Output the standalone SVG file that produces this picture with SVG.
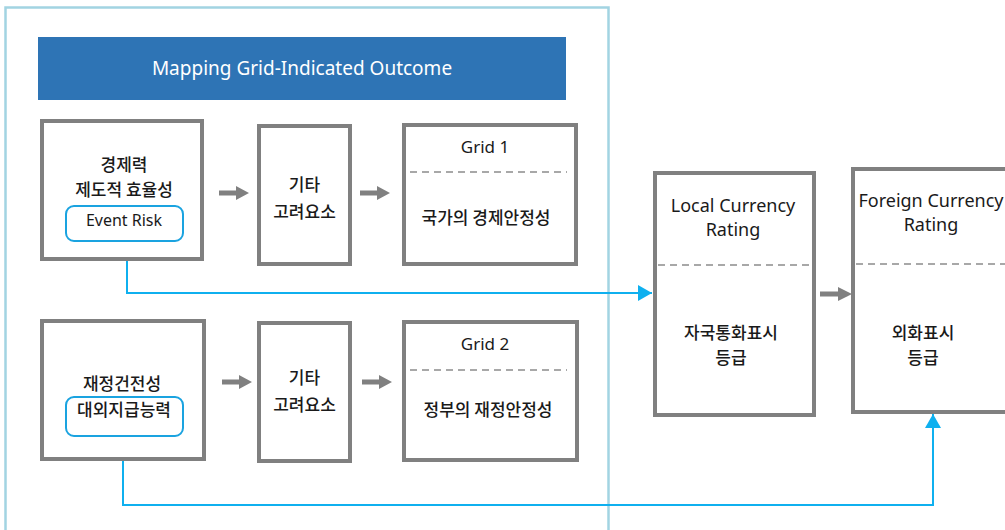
<svg xmlns="http://www.w3.org/2000/svg" width="1005" height="530" viewBox="0 0 1005 530">
<defs>
<style>
.box{fill:#fff;stroke:#808080;stroke-width:4}
.pill{fill:#fff;stroke:#1aa3e0;stroke-width:2}
.dash{stroke:#8c8c8c;stroke-width:1.5;stroke-dasharray:7 5;fill:none}
.t{font-family:"Noto Sans CJK KR","Noto Sans",sans-serif;font-size:17px;font-weight:500;fill:#1a1a1a;text-anchor:middle}
.e{font-family:"Noto Sans","Noto Sans CJK KR",sans-serif;font-size:16px;fill:#1a1a1a;text-anchor:middle}
.r{font-family:"Noto Sans","Noto Sans CJK KR",sans-serif;font-size:18px;fill:#1a1a1a;text-anchor:middle}
.conn{fill:none;stroke:#0fb0ef;stroke-width:2}
.garrow{fill:#808080}
</style>
<marker id="ba" viewBox="0 0 14 16" refX="14" refY="8" markerWidth="14" markerHeight="16" markerUnits="userSpaceOnUse" orient="auto">
<path d="M0,0 L14,8 L0,16 Z" fill="#0fb0ef"/>
</marker>
</defs>
<rect width="1005" height="530" fill="#fff"/>
<rect id="container" x="5.5" y="7.5" width="603" height="540" fill="none" stroke="#a2d4e2" stroke-width="2.5"/>
<g id="title">
<rect x="38" y="37" width="528" height="63" fill="#2e74b5"/>
<text x="302" y="75" style="font-family:'Noto Sans',sans-serif;font-size:19px;fill:#fff;text-anchor:middle">Mapping Grid-Indicated Outcome</text>
</g>
<g id="connectors">
<polyline class="conn" points="127,242 127,293 652,293" marker-end="url(#ba)"/>
<polyline class="conn" points="123,437 123,505 933,505 933,414" marker-end="url(#ba)"/>
<g class="garrow">
<path d="M219,190.5 H236 V186 L249,193 L236,200 V195.5 H219 Z"/>
<path d="M360,190.5 H377 V186 L390,193 L377,200 V195.5 H360 Z"/>
<path d="M222,379.5 H239 V375 L252,382 L239,389 V384.5 H222 Z"/>
<path d="M362,379.5 H379 V375 L392,382 L379,389 V384.5 H362 Z"/>
<path d="M820,291.5 H838 V287 L852,294 L838,301 V296.5 H820 Z"/>
</g>
</g>
<g id="node-econ">
<rect class="box" x="42" y="121" width="160" height="138"/>
<text class="t" x="124" y="171">경제력</text>
<text class="t" x="124" y="196">제도적 효율성</text>
<rect class="pill" x="66" y="206" width="117" height="35" rx="8"/>
<text class="e" x="124" y="226">Event Risk</text>
</g>
<g id="node-other1">
<rect class="box" x="259" y="126" width="91" height="138"/>
<text class="t" x="304.5" y="191">기타</text>
<text class="t" x="304.5" y="218">고려요소</text>
</g>
<g id="node-grid1">
<rect class="box" x="404" y="125" width="172" height="139"/>
<text class="e" x="485" y="153" style="font-size:17px">Grid 1</text>
<line class="dash" x1="410" y1="172" x2="567" y2="172"/>
<text class="t" x="486" y="224">국가의 경제안정성</text>
</g>
<g id="node-fiscal">
<rect class="box" x="42" y="321" width="162" height="138"/>
<text class="t" x="122" y="390">재정건전성</text>
<rect class="pill" x="66" y="397" width="117" height="39" rx="8"/>
<text class="t" x="124" y="416">대외지급능력</text>
</g>
<g id="node-other2">
<rect class="box" x="259" y="323" width="91" height="138"/>
<text class="t" x="304.5" y="384">기타</text>
<text class="t" x="304.5" y="411">고려요소</text>
</g>
<g id="node-grid2">
<rect class="box" x="404" y="322" width="173" height="138"/>
<text class="e" x="485" y="350" style="font-size:17px">Grid 2</text>
<line class="dash" x1="410" y1="370" x2="567" y2="370"/>
<text class="t" x="488" y="416">정부의 재정안정성</text>
</g>
<g id="node-local">
<rect class="box" x="655" y="173" width="159" height="242"/>
<text class="r" x="733" y="212">Local Currency</text>
<text class="r" x="733" y="236">Rating</text>
<line class="dash" x1="658" y1="265" x2="810" y2="265"/>
<text class="t" x="731" y="339">자국통화표시</text>
<text class="t" x="731" y="364">등급</text>
</g>
<g id="node-foreign">
<rect class="box" x="853" y="169" width="170" height="243"/>
<text class="r" x="931" y="207">Foreign Currency</text>
<text class="r" x="931" y="231">Rating</text>
<line class="dash" x1="856" y1="264" x2="1005" y2="264"/>
<text class="t" x="923" y="339">외화표시</text>
<text class="t" x="923" y="364">등급</text>
</g>
</svg>
